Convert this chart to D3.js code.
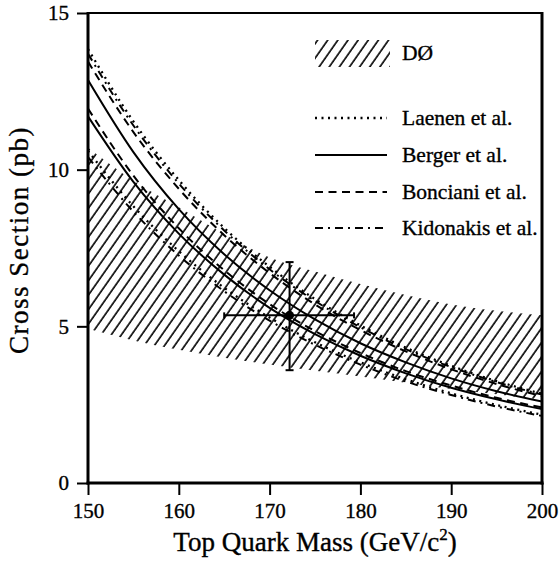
<!DOCTYPE html>
<html>
<head>
<meta charset="utf-8">
<script src="https://cdn.jsdelivr.net/npm/d3@7/dist/d3.min.js"></script>
<style>
html,body{margin:0;padding:0;background:#fff;}
svg{display:block;}
svg text{stroke:#000;stroke-width:0.35px;}
</style>
</head>
<body>
<svg id="chart" width="559" height="561"></svg>
<script>
// ---- data ----
const masses = [150,155,160,165,170,175,180,185,190,195,200];
const laenenUpper    = [13.85,11.54,9.67,8.14,6.90,5.87,5.03,4.32,3.74,3.25,2.85];
const laenenLower    = [10.60,8.83,7.40,6.23,5.28,4.49,3.85,3.31,2.86,2.49,2.18];
const bergerUpper    = [12.86,10.56,8.74,7.30,6.15,5.22,4.46,3.85,3.34,2.93,2.60];
const bergerLower    = [11.70,9.61,7.96,6.65,5.59,4.75,4.06,3.50,3.04,2.67,2.36];
const bonicianiUpper = [13.45,11.20,9.39,7.91,6.70,5.70,4.88,4.20,3.63,3.16,2.77];
const bonicianiLower = [11.95,9.81,8.13,6.79,5.71,4.85,4.15,3.57,3.11,2.72,2.41];
const kidonakisUpper = [13.70,11.41,9.56,8.06,6.82,5.81,4.97,4.27,3.70,3.22,2.82];
const kidonakisLower = [10.40,8.66,7.26,6.12,5.18,4.41,3.78,3.24,2.81,2.44,2.14];
const d0BandUpper    = [10.70,9.65,8.80,7.95,7.20,6.75,6.35,6.00,5.70,5.50,5.35];
const d0BandLower    = [4.92,4.55,4.25,4.00,3.78,3.58,3.40,3.20,3.00,2.83,2.66];
const d0Mass = 172.2, d0Xs = 5.35;
const d0MassRange = [165.0, 179.3];
const d0XsRange = [3.6, 7.05];
const massTicks = [150,160,170,180,190,200];
const xsTicks = [0,5,10,15];
const legendNames = ["Laenen et al.","Berger et al.","Bonciani et al.","Kidonakis et al."];

// ---- layout ----
const FONT = "'Liberation Serif'";
const L = 88, R = 542, T = 13, B = 483;
const svg = d3.select("#chart");
const x = d3.scaleLinear().domain([150,200]).range([L,R]);
const y = d3.scaleLinear().domain([0,15]).range([B,T]);

const dashes = {
  "Laenen et al.": "2,4.5",
  "Berger et al.": null,
  "Bonciani et al.": "8,5.5",
  "Kidonakis et al.": "8,5,2,5"
};

const defs = svg.append("defs");
const pat = defs.append("pattern").attr("id","hatch")
  .attr("patternUnits","userSpaceOnUse").attr("width",8.3).attr("height",10)
  .attr("patternTransform","rotate(35)");
pat.append("line").attr("x1",1).attr("y1",-1).attr("x2",1).attr("y2",11)
  .attr("stroke","#000").attr("stroke-width",1.6);
defs.append("clipPath").attr("id","plotclip").append("rect")
  .attr("x",L).attr("y",T).attr("width",R-L).attr("height",B-T);

const g = svg.append("g").attr("clip-path","url(#plotclip)");

// D0 band
const area = d3.area().x((d,i)=>x(masses[i])).y0((d,i)=>y(d0BandLower[i])).y1(d=>y(d))
  .curve(d3.curveMonotoneX);
g.append("path").attr("d",area(d0BandUpper)).attr("fill","url(#hatch)");

// theory curves
const line = d3.line().x((d,i)=>x(masses[i])).y(d=>y(d)).curve(d3.curveMonotoneX);
const curves = [
  ["Laenen et al.", laenenUpper], ["Laenen et al.", laenenLower],
  ["Kidonakis et al.", kidonakisUpper], ["Kidonakis et al.", kidonakisLower],
  ["Bonciani et al.", bonicianiUpper], ["Bonciani et al.", bonicianiLower],
  ["Berger et al.", bergerUpper], ["Berger et al.", bergerLower]
];
curves.forEach(([name, vals])=>{
  g.append("path").attr("d",line(vals)).attr("fill","none")
    .attr("stroke","#000").attr("stroke-width",name==="Laenen et al."?2.3:2)
    .attr("stroke-dasharray",dashes[name]);
});

// D0 measurement point
const pg = svg.append("g").attr("stroke","#000").attr("stroke-width",2);
pg.append("line").attr("x1",x(d0Mass)).attr("x2",x(d0Mass)).attr("y1",y(d0XsRange[0])).attr("y2",y(d0XsRange[1]));
pg.append("line").attr("x1",x(d0MassRange[0])).attr("x2",x(d0MassRange[1])).attr("y1",y(d0Xs)).attr("y2",y(d0Xs));
d0XsRange.forEach(v=>pg.append("line").attr("x1",x(d0Mass)-4).attr("x2",x(d0Mass)+4).attr("y1",y(v)).attr("y2",y(v)));
d0MassRange.forEach(v=>pg.append("line").attr("x1",x(v)).attr("x2",x(v)).attr("y1",y(d0Xs)-3).attr("y2",y(d0Xs)+3));
svg.append("circle").attr("cx",x(d0Mass)).attr("cy",y(d0Xs)).attr("r",4.5).attr("fill","#000");

// axes
const xAxis = svg.append("g").attr("transform",`translate(0,${B})`)
  .call(d3.axisBottom(x).tickValues(massTicks).tickSize(12).tickPadding(8).tickFormat(d3.format("d")));
const yAxis = svg.append("g").attr("transform",`translate(${L},0)`)
  .call(d3.axisLeft(y).tickValues(xsTicks).tickSize(11).tickPadding(8).tickFormat(d3.format("d")));
[xAxis,yAxis].forEach(a=>{
  a.attr("font-family",FONT).attr("font-size",21);
  a.select(".domain").remove();
  a.selectAll(".tick line").attr("stroke","#000").attr("stroke-width",2);
  a.selectAll(".tick text").attr("fill","#000").attr("font-family",FONT);
});

// frame
svg.append("line").attr("x1",L).attr("x2",R).attr("y1",T).attr("y2",T).attr("stroke","#000").attr("stroke-width",2);
svg.append("line").attr("x1",R).attr("x2",R).attr("y1",T-1).attr("y2",B+1.5).attr("stroke","#000").attr("stroke-width",3);
svg.append("line").attr("x1",L).attr("x2",L).attr("y1",T-1).attr("y2",B+1.5).attr("stroke","#000").attr("stroke-width",3);
svg.append("line").attr("x1",L-1.5).attr("x2",R+1.5).attr("y1",B).attr("y2",B).attr("stroke","#000").attr("stroke-width",3);

// axis titles
const xt = svg.append("text").attr("x",315).attr("y",551).attr("text-anchor","middle")
  .attr("font-family",FONT).attr("font-size",27);
xt.append("tspan").text("Top Quark Mass (GeV/c");
xt.append("tspan").attr("font-size",17).attr("dy",-11).text("2");
xt.append("tspan").attr("dy",11).text(")");
svg.append("text").attr("transform","translate(28,240) rotate(-90)").attr("text-anchor","middle")
  .attr("font-family",FONT).attr("font-size",27).attr("letter-spacing",1.5).text("Cross Section (pb)");

// legend
svg.append("rect").attr("x",315).attr("y",40).attr("width",75).attr("height",27).attr("fill","url(#hatch)");
svg.append("text").attr("x",402).attr("y",60).attr("font-family",FONT).attr("font-size",21.5).text("DØ");
const legY = [118,155,192,228];
legendNames.forEach((name,i)=>{
  svg.append("line").attr("x1",315).attr("x2",387).attr("y1",legY[i]).attr("y2",legY[i])
    .attr("stroke","#000").attr("stroke-width",name==="Laenen et al."?2.3:2).attr("stroke-dasharray",dashes[name]);
  svg.append("text").attr("x",402).attr("y",legY[i]+7).attr("font-family",FONT).attr("font-size",21.5).text(name);
});
</script>
</body>
</html>
